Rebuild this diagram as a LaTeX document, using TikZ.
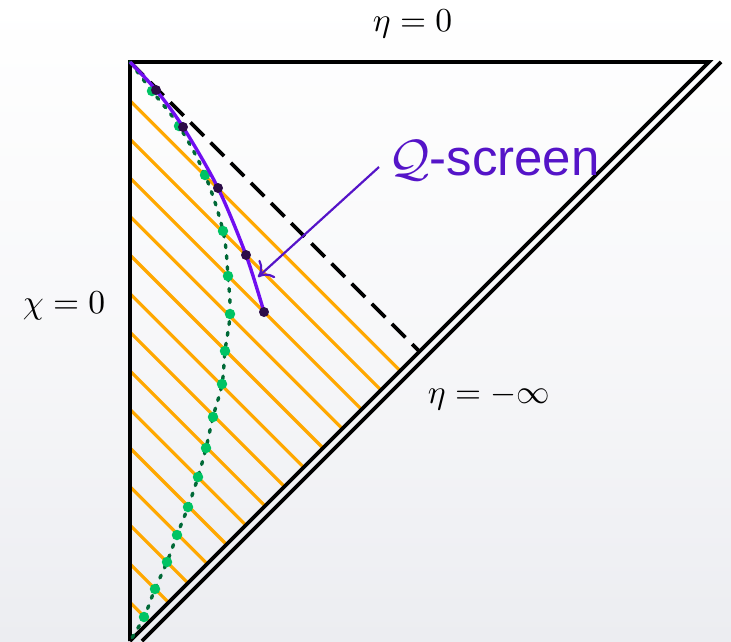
\documentclass[tikz,border=0pt]{standalone}
\usepackage{fontspec}
\setsansfont{Liberation Sans}
\usetikzlibrary{arrows.meta}
\definecolor{orng}{RGB}{255,168,0}
\definecolor{violet1}{RGB}{112,14,240}
\definecolor{pdot}{RGB}{45,12,72}
\definecolor{gdot}{RGB}{0,195,100}
\definecolor{gline}{RGB}{0,105,55}
\definecolor{qcol}{RGB}{85,20,200}
\definecolor{bgbot}{RGB}{236,237,241}
\tikzset{
  orangeline/.style={orng, line width=3.2pt},
  border/.style={black, line width=3.6pt},
  dashline/.style={black, line width=3.6pt, dash pattern=on 19pt off 9.5pt},
  dottedcurve/.style={gline, line width=3.4pt, line cap=round, dash pattern=on 3pt off 8pt},
  screencurve/.style={violet1, line width=3.4pt},
  gpt/.style={circle, fill=gdot, inner sep=0pt, minimum size=10.5pt},
  ppt/.style={circle, fill=pdot, inner sep=0pt, minimum size=10pt},
  mathlabel/.style={anchor=base, inner sep=0pt, scale=3.35},
  pointer/.style={qcol, line width=2.2pt, -{To[length=13pt,width=24pt]}}
}
\begin{document}
\begin{tikzpicture}[x=1pt,y=-1pt]
\useasboundingbox (0,0) rectangle (731,641);
\shade[top color=white, bottom color=bgbot, middle color=white!60!bgbot] (0,0) rectangle (731,641);

\coordinate (A) at (130,62);
\coordinate (B) at (709,62);
\coordinate (C) at (130,641);
\coordinate (M) at (419.5,351.5);
\coordinate (B2) at (721,62);
\coordinate (C2) at (142,641);

% orange lines
\foreach \k in {1,...,14}{
  \pgfmathsetmacro\ystart{62+38.6*\k}
  \pgfmathsetmacro\orl{(771-130-\ystart)/2}
  \draw[orangeline] (130,\ystart) -- ++(\orl,\orl);
}

% dashed line
\draw[dashline] (A) -- (M);

% border
\draw[border, line join=miter] (C) -- (A) -- (B) -- (C);
\draw[border] (B2) -- (C2);

% green dotted curve
\draw[dottedcurve] plot[smooth, tension=0.6] coordinates {(130,62) (152,91) (179,126) (205,175) (223,231) (228,276) (230,314) (225,351) (222,384) (213,417) (206,448) (198,477) (188,507) (177,535) (167,562) (155,589) (144,617) (130,641)};

% green dots
\foreach \p [count=\i] in {(152,91),(179,126),(205,175),(223,231),(228,276),(230,314),(225,351),(222,384),(213,417),(206,448),(198,477),(188,507),(177,535),(167,562),(155,589),(144,617)}{
  \node[gpt] (g\i) at \p {};
}

% Q-screen curve
\draw[screencurve] plot[smooth, tension=0.5] coordinates {(130,62) (156,90) (183,127) (218,188) (246,255) (264,312)};
\foreach \p [count=\i] in {(156,90),(183,127),(218,188),(246,255),(264,312)}{
  \node[ppt] (p\i) at \p {};
}

% labels
\node[mathlabel] (eta0) at (412.5,31.5) {$\eta=0$};
\node[mathlabel] (chi0) at (64,313) {$\chi=0$};
\node[mathlabel] (etainf) at (489,403) {$\eta=-\infty$};

\node[anchor=base west, inner sep=0pt, scale=5.1, text=qcol] (qs) at (387,175) {$\mathcal{Q}$\textsf{-screen}};
\coordinate (arrstart) at (379,167);
\coordinate (arrend) at (258,277);
\draw[pointer] (arrstart) -- (arrend);
\end{tikzpicture}
\end{document}
